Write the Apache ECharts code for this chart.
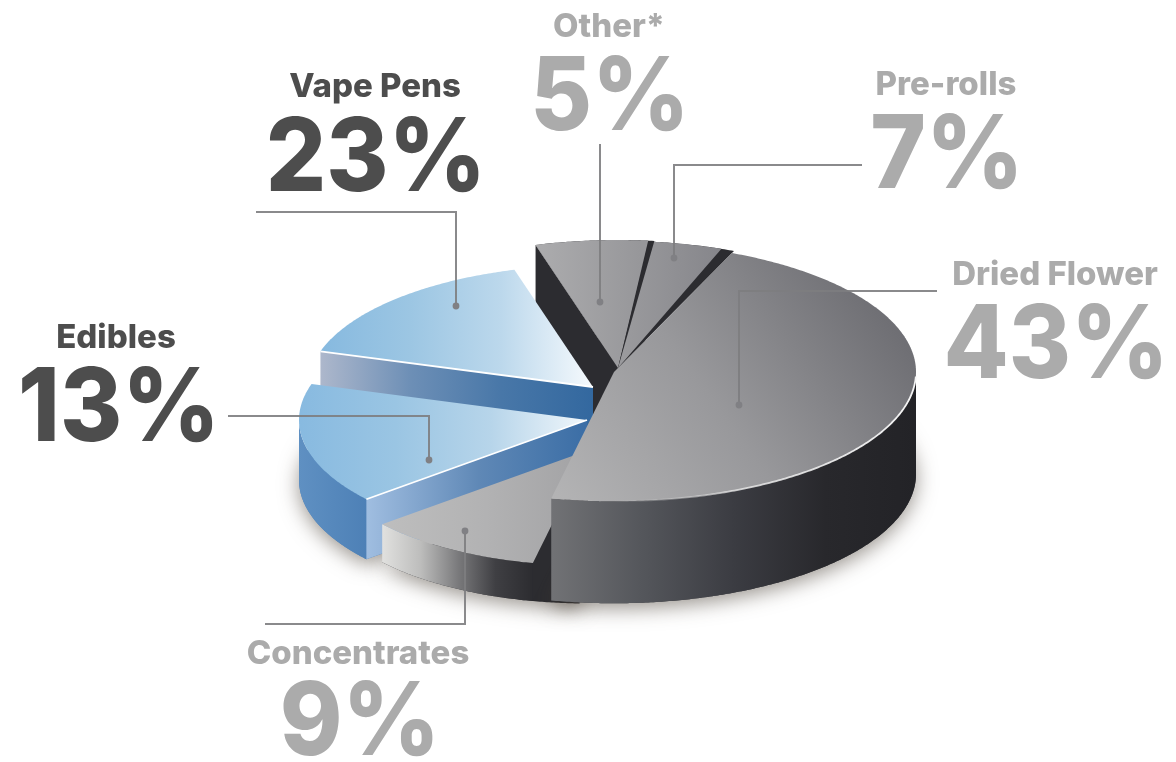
<!DOCTYPE html>
<html>
<head>
<meta charset="utf-8">
<style>html,body{margin:0;padding:0;background:#fff}#chart{width:1176px;height:762px}</style>
<script src="https://cdn.jsdelivr.net/npm/echarts@6/dist/echarts.min.js"></script>
</head>
<body>
<div id="chart"></div>
<script>
// Market share by product type, in percent
const categories = ['Dried Flower', 'Concentrates', 'Edibles', 'Vape Pens', 'Other*', 'Pre-rolls'];
const shares = [43, 9, 13, 23, 5, 7];

// Degrees of arc each slice is drawn with, per degree of its share
const arcStretch = [1.0917, 1.1728, 1.2179, 0.6884, 1.2778, 0.6349];
const startAngle = -67;
const tilt = 0.428;

// Where each slice sits and how it is shaded
const DARK = '#2c2c30';
const sliceLayout = [
  { cx: 614, cy: 372, rx: 302, depth: 102, paint: 5, trim: 0, back: 0, highlightRim: [2, 92],
    top: [[552, 500, 860, 280], ['#b4b4b5', '#98989b', '#6f6f74']],
    rim: [[552, 0, 916, 0], ['#717275', '#54565b', '#3b3c42', '#28282c', '#232327']],
    side: DARK, foot: '#3a3a3e' },
  { cx: 589, cy: 450, rx: 270, depth: 38, paint: 4, trim: 0, back: 10,
    top: [[383, 0, 589, 0], ['#bebebe', '#b2b2b3', '#a2a2a4']],
    rim: [[383, 0, 533, 0], ['#e0e0de', '#bdbdbc', '#7a7a7c', '#3f3f43', '#2c2c30']],
    side: DARK, foot: DARK },
  { cx: 587, cy: 420, rx: 288, depth: 60, paint: 3, trim: 0, back: 0, highlightEdge: true,
    top: [[300, 0, 587, 0], ['#88bae0', '#9ac5e3', '#b7d5ea', '#f1f7fb']],
    rim: [[299, 0, 368, 0], ['#5f90c2', '#4d80b6']],
    side: [[368, 0, 590, 0], ['#9fbde0', '#5f88b6', '#3a6da5']], foot: '#4d80b6' },
  { cx: 593, cy: 387, rx: 285, depth: 60, paint: 2, trim: 0, back: 0, highlightEdge: true,
    top: [[319, 0, 593, 0], ['#86b9df', '#9cc6e3', '#bcd8ec', '#f6fafd']],
    rim: [[319, 0, 400, 0], ['#aab6cc', '#8ea3c0']],
    side: [[319, 0, 593, 0], ['#aeb8cc', '#6d8fb6', '#4877a8', '#33689f']], foot: '#33689f' },
  { cx: 618, cy: 368, rx: 299, depth: 100, paint: 0, trim: 1.2, back: 0,
    top: [[535, 300, 640, 300], ['#acacae', '#97979a']],
    rim: DARK, side: DARK, foot: DARK },
  { cx: 618, cy: 368, rx: 297, depth: 100, paint: 1, trim: 2.6, back: 1,
    top: [[625, 300, 725, 300], ['#9a9a9d', '#85858a']],
    rim: DARK, side: DARK, foot: DARK }
];

// Caption placement and leader routes, ending on a dot inside the slice
const labelLayout = [
  { titleX: 1055, titleY: 275, valueX: 1056, valueY: 347, color: '#ababab', leader: [[937, 291], [739, 291], [739, 405]] },
  { titleX: 358, titleY: 654, valueX: 360, valueY: 724, color: '#ababab', leader: [[265, 624], [465, 624], [465, 531]] },
  { titleX: 116, titleY: 338, valueX: 119, valueY: 410, color: '#4d4d4d', leader: [[228, 416], [429, 416], [429, 460]] },
  { titleX: 375, titleY: 87, valueX: 376, valueY: 160, color: '#4d4d4d', leader: [[256, 212], [456, 212], [456, 306]] },
  { titleX: 609, titleY: 27, valueX: 610, valueY: 99, color: '#ababab', leader: [[600, 144], [600, 302]] },
  { titleX: 946, titleY: 85, valueX: 947, valueY: 157, color: '#ababab', leader: [[862, 165], [674, 165], [674, 258]] }
];

const FONT = 'Inter, Lato, sans-serif';
const RAD = Math.PI / 180;

// Arc limits follow from the cumulative shares
const arcs = [];
shares.reduce((from, share, i) => {
  const to = from + share * 3.6 * arcStretch[i];
  arcs.push([from, to]);
  return to;
}, startAngle);

function point(s, deg, drop) {
  return [
    s.cx + s.rx * Math.cos(deg * RAD),
    s.cy + s.rx * tilt * Math.sin(deg * RAD) + (drop || 0)
  ];
}

function arcPoints(s, a, b, drop) {
  const pts = [];
  const steps = Math.max(2, Math.ceil(Math.abs(b - a) * 2));
  for (let k = 0; k <= steps; k++) pts.push(point(s, a + (b - a) * k / steps, drop));
  return pts;
}

function paintOf(p) {
  if (typeof p === 'string') return p;
  const box = p[0];
  const stops = p[1].map((c, k) => ({ offset: k / (p[1].length - 1), color: c }));
  return new echarts.graphic.LinearGradient(box[0], box[1], box[2], box[3], stops, true);
}

function polygon(points, fill, extra) {
  return { type: 'polygon', shape: { points }, style: Object.assign({ fill, stroke: null }, extra || {}) };
}

function stroke(points, color, width) {
  return { type: 'polyline', shape: { points }, style: { fill: null, stroke: color, lineWidth: width } };
}

// Soft ground shadow under the slices that stand in front
function renderFootprint(params, api) {
  const i = api.value(1);
  const s = sliceLayout[i];
  const a = arcs[i][0] - s.back;
  const pts = arcPoints(s, a, arcs[i][1], s.depth);
  pts.unshift([s.cx, s.cy + s.depth]);
  return polygon(pts, s.foot, {
    shadowBlur: 20,
    shadowOffsetY: 5,
    shadowColor: 'rgba(70,60,50,0.55)'
  });
}

// One extruded slice: outer wall, visible cut face, then the top surface
function renderSlice(params, api) {
  const i = api.value(1);
  const s = sliceLayout[i];
  const [a, b] = arcs[i];
  const children = [];

  // Dark interior showing through the hairline gaps
  if (s.trim > 0) {
    const under = arcPoints(s, a - s.back, b);
    under.unshift([s.cx, s.cy]);
    children.push(polygon(under, DARK));
  }

  // Outer wall: only the part of the rim facing the viewer
  const wallFrom = Math.max(a, 0);
  const wallTo = Math.min(b, 180);
  if (wallTo > wallFrom) {
    const upper = arcPoints(s, wallFrom, wallTo);
    const lower = arcPoints(s, wallFrom, wallTo, s.depth).reverse();
    children.push(polygon(upper.concat(lower), paintOf(s.rim)));
  }

  // Cut face at the leading edge
  if (Math.cos(a * RAD) < 0) {
    const rimTop = point(s, a);
    children.push(polygon([
      rimTop, [s.cx, s.cy], [s.cx, s.cy + s.depth], [rimTop[0], rimTop[1] + s.depth]
    ], paintOf(s.side)));
  }

  // Top surface
  const topPts = arcPoints(s, a, b - s.trim);
  topPts.unshift([s.cx, s.cy]);
  children.push(polygon(topPts, paintOf(s.top)));

  // Bright bevels
  if (s.highlightEdge) {
    children.push(stroke([point(s, a), [s.cx, s.cy]], '#ffffff', 1.8));
  }
  if (s.highlightRim) {
    const rimLine = arcPoints(s, s.highlightRim[0], s.highlightRim[1]);
    const fade = new echarts.graphic.LinearGradient(s.cx + s.rx, 0, s.cx, 0, [
      { offset: 0, color: 'rgba(245,245,245,1)' },
      { offset: 0.6, color: 'rgba(235,235,235,0.8)' },
      { offset: 1, color: 'rgba(200,200,200,0)' }
    ], true);
    children.push(stroke(rimLine, fade, 1.8));
  }
  return { type: 'group', children };
}

// Leader line, end dot and the two-line caption
function renderLabel(params, api) {
  const i = api.value(1);
  const l = labelLayout[i];
  const end = l.leader[l.leader.length - 1];
  return {
    type: 'group',
    children: [
      stroke(l.leader, 'rgba(125,125,128,0.9)', 2),
      { type: 'circle', shape: { cx: end[0], cy: end[1], r: 3.4 }, style: { fill: '#808084' } },
      {
        type: 'text',
        x: l.titleX,
        y: l.titleY,
        style: {
          text: categories[i], fill: l.color,
          fontFamily: FONT, fontWeight: 800, fontSize: 33,
          align: 'center', verticalAlign: 'middle'
        }
      },
      {
        type: 'text',
        x: l.valueX,
        y: l.valueY,
        scaleX: 0.93,
        style: {
          text: api.value(0) + '%', fill: l.color,
          fontFamily: FONT, fontWeight: 800, fontSize: 102,
          align: 'center', verticalAlign: 'middle'
        }
      }
    ]
  };
}

const rows = shares.map((v, i) => [v, i]);
const paintOrder = sliceLayout
  .map((s, i) => [s.paint, i])
  .sort((p, q) => p[0] - q[0])
  .map(p => rows[p[1]]);

const chart = echarts.init(document.getElementById('chart'), null, { renderer: 'canvas' });
chart.setOption({
  animation: false,
  backgroundColor: '#ffffff',
  series: [
    { type: 'custom', coordinateSystem: 'none', silent: true, z: 1, renderItem: renderFootprint, data: paintOrder },
    { type: 'custom', coordinateSystem: 'none', silent: true, z: 2, renderItem: renderSlice, data: paintOrder },
    { type: 'custom', coordinateSystem: 'none', silent: true, z: 3, renderItem: renderLabel, data: rows }
  ]
});
</script>
</body>
</html>
